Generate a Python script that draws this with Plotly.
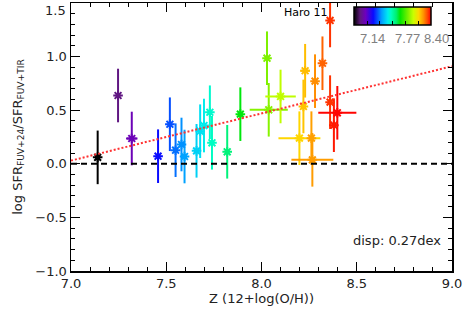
import plotly.graph_objects as go
from plotly.colors import sample_colorscale

# ---- data ----
metallicity = [7.14, 7.247, 7.319, 7.457, 7.519, 7.549, 7.580, 7.596, 7.659, 7.678,
               7.698, 7.729, 7.740, 7.820, 7.889, 8.029, 8.038, 8.100, 8.220, 8.229,
               8.199, 8.262, 8.267, 8.281, 8.320, 8.360, 8.360, 8.398, 8.380]
log_ratio = [0.060, 0.637, 0.236, 0.071, 0.369, 0.127, 0.180, 0.068, 0.121, 0.304,
             0.357, 0.481, 0.196, 0.112, 0.463, 0.985, 0.504, 0.628, 0.535, 0.868,
             0.239, 0.239, 0.037, 0.771, 0.938, 1.337, 0.575, 0.476, 0.360]
err_ratio = [0.25] * 29
err_metal = [0.0, 0.0, 0.03, 0.0, 0.0, 0.0, 0.0, 0.0, 0.0, 0.0,
             0.0, 0.0, 0.0, 0.0, 0.0, 0.0, 0.10, 0.08, 0.0, 0.025,
             0.11, 0.0, 0.11, 0.0, 0.0, 0.0, 0.0, 0.10, 0.0]
fit_z = [7.0, 9.0]
fit_y = [0.03, 0.91]
cbar_range = [7.14, 8.40]
cbar_ticklabels = ["7.14", "7.77", "8.40"]
x_ticks = [7.0, 7.5, 8.0, 8.5, 9.0]
y_ticks = [-1.0, -0.5, 0.0, 0.5, 1.0]
y_top_label = 1.5
haro_label = "Haro 11"
disp_label = "disp: 0.27dex"

# IDL-like rainbow colour table
rainbow = [
    [0.00, "rgb(0,0,0)"],
    [0.08, "rgb(95,25,125)"],
    [0.15, "rgb(110,0,190)"],
    [0.25, "rgb(10,10,255)"],
    [0.36, "rgb(0,160,255)"],
    [0.44, "rgb(0,235,240)"],
    [0.48, "rgb(0,255,190)"],
    [0.55, "rgb(0,240,110)"],
    [0.60, "rgb(0,230,0)"],
    [0.70, "rgb(120,240,0)"],
    [0.77, "rgb(200,255,0)"],
    [0.84, "rgb(255,215,0)"],
    [0.90, "rgb(255,150,0)"],
    [0.95, "rgb(255,80,0)"],
    [1.00, "rgb(255,0,0)"],
]

FONT = "DejaVu Sans"
fig = go.Figure()

lo, hi = cbar_range
for z, r, ey, ex in zip(metallicity, log_ratio, err_ratio, err_metal):
    frac = min(max((z - lo) / (hi - lo), 0), 1)
    c = sample_colorscale(rainbow, [frac])[0]
    fig.add_trace(go.Scatter(
        x=[z], y=[r], mode="markers",
        marker=dict(size=1, opacity=0),
        error_y=dict(type="data", array=[ey], color=c, thickness=2, width=0),
        error_x=dict(type="data", array=[ex], color=c, thickness=2, width=0, visible=ex > 0),
        showlegend=False, hoverinfo="skip",
    ))

# filled core under each asterisk
fig.add_trace(go.Scatter(
    x=metallicity, y=log_ratio, mode="markers",
    marker=dict(symbol="square", size=4, color=metallicity,
                colorscale=rainbow, cmin=lo, cmax=hi, line=dict(width=0)),
    showlegend=False, hoverinfo="skip",
))
fig.add_trace(go.Scatter(
    x=metallicity, y=log_ratio, mode="markers",
    marker=dict(symbol="asterisk-open", size=8, color=metallicity,
                colorscale=rainbow, cmin=lo, cmax=hi,
                line=dict(width=2),
                showscale=True,
                colorbar=dict(orientation="h", x=0.8445, xanchor="center",
                              y=0.984, yanchor="top", len=77, lenmode="pixels",
                              thickness=18, xpad=0, ypad=0,
                              outlinewidth=1.5, outlinecolor="black",
                              ticks="inside", ticklen=4, tickcolor="black",
                              tickvals=[7.14, 7.35, 7.56, 7.77, 7.98, 8.19, 8.40],
                              showticklabels=False)),
    showlegend=False, hoverinfo="skip",
))

# zero line
fig.add_trace(go.Scatter(x=fit_z, y=[0, 0], mode="lines",
                         line=dict(color="black", width=2, dash="6px,4px"),
                         showlegend=False, hoverinfo="skip"))
# fit line
fig.add_trace(go.Scatter(x=fit_z, y=fit_y, mode="lines",
                         line=dict(color="rgb(255,50,50)", width=2, dash="2px,2px"),
                         showlegend=False, hoverinfo="skip"))

axis_common = dict(ticks="inside", showline=True, linecolor="black", linewidth=1.5,
                   mirror="ticks", showgrid=False, zeroline=False, tickcolor="black",
                   automargin=False,
                   tickfont=dict(family=FONT, size=13, color="#222"))

fig.update_xaxes(range=[7, 9], tickvals=x_ticks, tickformat=".1f", ticklen=9,
                 minor=dict(ticks="inside", dtick=0.1, ticklen=4, tickcolor="black"),
                 title=dict(text="Z (12+log(O/H))", font=dict(family=FONT, size=13, color="#222"),
                            standoff=4),
                 **axis_common)
fig.update_yaxes(range=[-1, 1.5], tickvals=y_ticks, tickformat=".1f", ticklen=9,
                 minor=dict(ticks="inside", dtick=0.1, ticklen=4, tickcolor="black"),
                 title=dict(text="log SFR<sub>FUV+24</sub>/SFR<sub>FUV+TIR</sub>",
                            font=dict(family=FONT, size=13, color="#222"), standoff=10),
                 **axis_common)

fig.add_annotation(x=0, xref="paper", xanchor="right", xshift=-3, y=y_top_label, yref="y",
                   yanchor="top", yshift=2, text=f"{y_top_label:.1f}", showarrow=False,
                   font=dict(family=FONT, size=13, color="#222"))
fig.add_annotation(x=8.234, y=1.41, xanchor="center", yanchor="middle", text=haro_label,
                   showarrow=False, font=dict(family=FONT, size=11, color="black"))
fig.add_annotation(x=1, xref="paper", xanchor="right", xshift=-9, y=-0.72, yref="y",
                   yanchor="middle", text=disp_label, showarrow=False,
                   font=dict(family=FONT, size=13, color="#222"))
for lab, px in zip(cbar_ticklabels, [0.792, 0.884, 0.960]):
    fig.add_annotation(x=px, xref="paper", xanchor="center", y=0.866, yref="paper",
                       yanchor="middle", text=lab, showarrow=False,
                       font=dict(family="Liberation Sans", size=13, color="gray"))

fig.update_layout(width=464, height=319, hovermode=False,
                  margin=dict(l=71, r=12, t=3, b=48, autoexpand=False),
                  plot_bgcolor="white", paper_bgcolor="white")

fig.write_html("out.html", config={"displayModeBar": False, "staticPlot": True},
               post_script="document.body.style.margin='0';document.body.style.padding='0';")
